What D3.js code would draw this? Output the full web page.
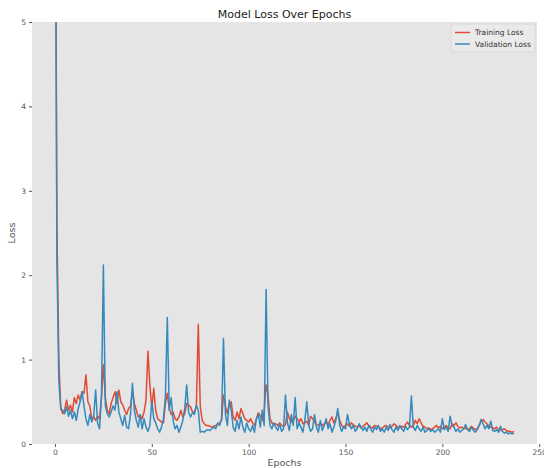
<!DOCTYPE html>
<html>
<head>
<meta charset="utf-8">
<script src="https://cdn.jsdelivr.net/npm/d3@7"></script>
<style>
  body { margin: 0; background: #fff; }
  svg { display: block; font-family: "DejaVu Sans", sans-serif; }
</style>
</head>
<body>
<div id="container"></div>
<script>
/* DATA */
const trainLoss = [
  8.0, 2.6, 1.0, 0.42, 0.36, 0.40, 0.52, 0.40, 0.46, 0.38,
  0.55, 0.48, 0.58, 0.52, 0.62, 0.60, 0.82, 0.50, 0.45, 0.30,
  0.32, 0.28, 0.33, 0.30, 0.55, 0.94, 0.55, 0.40, 0.36, 0.48,
  0.55, 0.62, 0.48, 0.64, 0.50, 0.46, 0.40, 0.35, 0.42, 0.45,
  0.62, 0.48, 0.40, 0.32, 0.34, 0.30, 0.38, 0.52, 1.10, 0.70,
  0.42, 0.66, 0.40, 0.30, 0.28, 0.26, 0.25, 0.48, 0.60, 0.42,
  0.35, 0.38, 0.30, 0.28, 0.32, 0.40, 0.32, 0.36, 0.48, 0.46,
  0.44, 0.38, 0.38, 0.45, 1.42, 0.45, 0.28, 0.24, 0.22, 0.22,
  0.21, 0.20, 0.21, 0.22, 0.23, 0.25, 0.28, 0.58, 0.45, 0.36,
  0.48, 0.50, 0.32, 0.28, 0.38, 0.30, 0.42, 0.36, 0.30, 0.28,
  0.26, 0.30, 0.25, 0.22, 0.30, 0.37, 0.33, 0.28, 0.38, 0.70,
  0.58, 0.30, 0.25, 0.23, 0.24, 0.22, 0.25, 0.22, 0.21, 0.23,
  0.38, 0.30, 0.26, 0.28, 0.33, 0.30, 0.26, 0.30, 0.24, 0.25,
  0.27, 0.22, 0.33, 0.30, 0.26, 0.23, 0.22, 0.25, 0.22, 0.24,
  0.26, 0.23, 0.28, 0.32, 0.25, 0.30, 0.38, 0.28, 0.22, 0.20,
  0.22, 0.24, 0.21, 0.25, 0.23, 0.21, 0.20, 0.22, 0.19, 0.21,
  0.23, 0.25, 0.22, 0.20, 0.19, 0.22, 0.21, 0.20, 0.18, 0.19,
  0.21, 0.22, 0.20, 0.19, 0.21, 0.24, 0.22, 0.20, 0.19, 0.21,
  0.20, 0.23, 0.26, 0.22, 0.20, 0.22, 0.28, 0.24, 0.30, 0.25,
  0.21, 0.20, 0.18, 0.19, 0.17, 0.18, 0.20, 0.22, 0.19, 0.21,
  0.18, 0.20, 0.22, 0.19, 0.18, 0.24, 0.22, 0.25, 0.21, 0.19,
  0.20, 0.18, 0.19, 0.17, 0.18, 0.21, 0.19, 0.17, 0.18, 0.22,
  0.27, 0.29, 0.26, 0.24, 0.21, 0.20, 0.19, 0.18, 0.20, 0.17,
  0.16, 0.17, 0.18, 0.16, 0.15, 0.15, 0.14, 0.15
];

const valLoss = [
  9.0, 2.2, 0.75, 0.42, 0.40, 0.36, 0.44, 0.33, 0.40, 0.30,
  0.38, 0.28, 0.42, 0.50, 0.62, 0.45, 0.30, 0.22, 0.35, 0.26,
  0.33, 0.64, 0.25, 0.18, 0.55, 2.12, 0.45, 0.36, 0.32, 0.38,
  0.45, 0.40, 0.62, 0.38, 0.30, 0.22, 0.34, 0.20, 0.18, 0.35,
  0.72, 0.40, 0.28, 0.20, 0.35, 0.18, 0.30, 0.20, 0.15, 0.22,
  0.50, 0.30, 0.25, 0.18, 0.14, 0.20, 0.30, 0.55, 1.50, 0.40,
  0.55, 0.28, 0.18, 0.22, 0.14, 0.20, 0.28, 0.42, 0.70, 0.38,
  0.32, 0.37, 0.35, 0.46, 0.40, 0.14, 0.15, 0.14, 0.16, 0.17,
  0.16, 0.18, 0.20, 0.18, 0.25, 0.22, 0.30, 1.25, 0.35, 0.22,
  0.52, 0.40, 0.20, 0.15, 0.28, 0.18, 0.32, 0.20, 0.14, 0.25,
  0.18, 0.15, 0.22, 0.14, 0.30, 0.35, 0.20, 0.40, 0.22, 1.83,
  0.45, 0.22, 0.18, 0.25, 0.20, 0.16, 0.24, 0.15, 0.18, 0.58,
  0.25, 0.16, 0.35, 0.22, 0.55, 0.18, 0.25, 0.20, 0.14, 0.28,
  0.50, 0.22, 0.15, 0.18, 0.35, 0.20, 0.14, 0.28, 0.16, 0.22,
  0.30, 0.18, 0.24, 0.14, 0.20, 0.28, 0.42, 0.22, 0.15, 0.20,
  0.18, 0.35, 0.24, 0.18, 0.22, 0.15, 0.18, 0.24, 0.20, 0.16,
  0.20, 0.15, 0.22, 0.18, 0.14, 0.20, 0.17, 0.22, 0.15, 0.18,
  0.14, 0.20, 0.16, 0.23, 0.17, 0.14, 0.20, 0.16, 0.22, 0.18,
  0.15, 0.21, 0.17, 0.20, 0.57, 0.20, 0.16, 0.22, 0.18, 0.15,
  0.20, 0.14, 0.16, 0.18, 0.15, 0.17, 0.14, 0.16, 0.18, 0.14,
  0.30, 0.17, 0.20, 0.15, 0.33, 0.22, 0.20, 0.15, 0.18, 0.14,
  0.16, 0.18, 0.23, 0.17, 0.15, 0.20, 0.16, 0.14, 0.17, 0.22,
  0.29, 0.24, 0.18, 0.22, 0.18, 0.27, 0.16, 0.15, 0.17, 0.14,
  0.21, 0.15, 0.13, 0.14, 0.12, 0.13, 0.12, 0.13
];

const seriesNames = ["Training Loss", "Validation Loss"];
const seriesColors = ["#E24A33", "#348ABD"];
const xTicks = [0, 50, 100, 150, 200, 250];
const yTicks = [0, 1, 2, 3, 4, 5];

/* LAYOUT */
const width = 544, height = 468;
const margin = { top: 22, right: 7, bottom: 24, left: 32 };

const svg = d3.select("#container")
  .append("svg")
  .attr("width", width)
  .attr("height", height);

// x limits with matplotlib's 5% padding around the epochs
const nEpochs = trainLoss.length;
const pad = (nEpochs - 1) * 0.05;

const xScale = d3.scaleLinear()
  .domain([-pad, nEpochs - 1 + pad])
  .range([margin.left, width - margin.right]);

const yScale = d3.scaleLinear()
  .domain([0, 5])
  .range([height - margin.bottom, margin.top]);

// background panel
svg.append("rect")
  .attr("x", margin.left)
  .attr("y", margin.top)
  .attr("width", width - margin.left - margin.right)
  .attr("height", height - margin.top - margin.bottom)
  .attr("fill", "#E5E5E5");

svg.append("clipPath")
  .attr("id", "plot-clip")
  .append("rect")
  .attr("x", margin.left)
  .attr("y", margin.top)
  .attr("width", width - margin.left - margin.right)
  .attr("height", height - margin.top - margin.bottom);

// AXES ----------------------------------------------
const xAxis = svg.append("g")
  .attr("transform", `translate(0,${height - margin.bottom})`)
  .call(d3.axisBottom(xScale).tickValues(xTicks).tickSize(3).tickPadding(3));

const yAxis = svg.append("g")
  .attr("transform", `translate(${margin.left},0)`)
  .call(d3.axisLeft(yScale).tickValues(yTicks).tickFormat(d3.format("d")).tickSize(3).tickPadding(3));

[xAxis, yAxis].forEach(ax => {
  ax.select(".domain").remove();
  ax.selectAll(".tick line").attr("stroke", "#555");
  ax.selectAll(".tick text")
    .attr("fill", "#555")
    .style("font-size", "7.5px")
    .style("font-family", "DejaVu Sans");
});

// LINES ----------------------------------------------
const line = d3.line()
  .x((d, i) => xScale(i))
  .y(d => yScale(d));

svg.append("g")
  .attr("clip-path", "url(#plot-clip)")
  .selectAll("path")
  .data([trainLoss, valLoss])
  .join("path")
  .attr("d", line)
  .attr("fill", "none")
  .attr("stroke", (_, i) => seriesColors[i])
  .attr("stroke-width", 1.5)
  .attr("stroke-linejoin", "round");

// TITLE AND LABELS -----------------------------------
svg.append("text")
  .attr("x", (margin.left + width - margin.right) / 2)
  .attr("y", 18)
  .attr("text-anchor", "middle")
  .style("font-size", "11px")
  .attr("fill", "#222")
  .text("Model Loss Over Epochs");

svg.append("text")
  .attr("x", (margin.left + width - margin.right) / 2)
  .attr("y", 466)
  .attr("text-anchor", "middle")
  .style("font-size", "9.5px")
  .attr("fill", "#555")
  .text("Epochs");

svg.append("text")
  .attr("transform", `translate(15,${(margin.top + height - margin.bottom) / 2}) rotate(-90)`)
  .attr("text-anchor", "middle")
  .style("font-size", "9.5px")
  .attr("fill", "#555")
  .text("Loss");

// LEGEND ---------------------------------------------
const legend = svg.append("g")
  .attr("transform", "translate(451,24)");

legend.append("rect")
  .attr("width", 84)
  .attr("height", 28)
  .attr("rx", 2)
  .attr("fill", "#EAEAEA")
  .attr("stroke", "#D6D6D6")
  .attr("stroke-width", 0.8);

legend.selectAll(".legend-line")
  .data(seriesNames)
  .join("line")
  .attr("class", "legend-line")
  .attr("x1", 4)
  .attr("x2", 19)
  .attr("y1", (_, i) => 8.5 + i * 11.5)
  .attr("y2", (_, i) => 8.5 + i * 11.5)
  .attr("stroke", (_, i) => seriesColors[i])
  .attr("stroke-width", 1.5);

legend.selectAll(".legend-label")
  .data(seriesNames)
  .join("text")
  .attr("class", "legend-label")
  .attr("x", 24)
  .attr("y", (_, i) => 8.5 + i * 11.5)
  .attr("dominant-baseline", "central")
  .style("font-size", "7.5px")
  .attr("fill", "#333")
  .text(d => d);
</script>
</body>
</html>
